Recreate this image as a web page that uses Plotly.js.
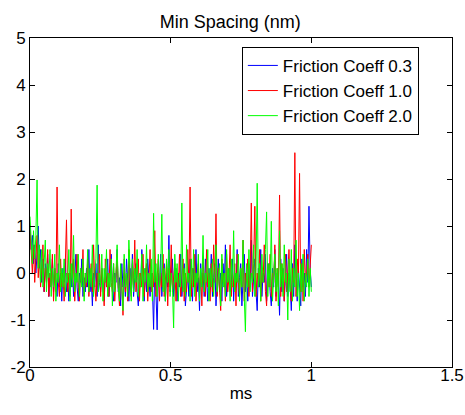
<!DOCTYPE html>
<html>
<head>
<meta charset="utf-8">
<script src="https://cdn.plot.ly/plotly-3.0.1.min.js"></script>
<style>html,body{margin:0;padding:0;background:#fff;}#chart{width:465px;height:415px;}</style>
</head>
<body>
<div id="chart"></div>
<script>
// Time span of the samples (ms) and series names
const tStart = 0;
const tEnd = 1;
const seriesNames = ["Friction Coeff 0.3", "Friction Coeff 1.0", "Friction Coeff 2.0"];
const seriesColors = ["#0000ff", "#ff0000", "#00ff00"];

// Min spacing (nm), Friction Coeff 0.3
const spacing03 = [
 1.0, 0.5, 0.8, 0.2, 0.6, 0.0, 0.4, 1.0, 0.1, 0.5,
 -0.2, 0.3, -0.4, 0.2, -0.1, 0.4, -0.5, 0.0, -0.3, 0.3,
 -0.4, 0.1, -0.2, -0.5, 0.2, -0.3, 0.0, -0.6, 0.1, -0.2,
 0.3, -0.4, -0.1, -0.6, 0.0, -0.3, 0.2, -0.5, -0.1, 0.4,
 -0.3, -0.6, 0.0, -0.2, 0.3, -0.5, -0.1, -0.4, 0.1, -0.3,
 0.5, -0.4, -0.1, -0.7, 0.0, -0.3, 0.2, -0.5, 0.6, -0.2,
 -0.4, 0.1, -0.3, -0.6, 0.0, -0.2, 0.3, -0.5, -0.1, 0.4,
 -0.3, -0.6, 0.0, -0.2, 0.5, -0.4, -0.1, -0.7, 0.2, -0.3,
 0.0, -0.5, 0.3, -0.2, -0.6, 0.1, -0.3, 0.4, -0.5, -0.1,
 0.2, -0.4, -0.7, 0.0, -0.3, 0.5, -0.2, -0.6, 0.1, -0.4,
 0.3, -0.2, -0.5, 0.0, -0.3, -1.2, 0.2, -0.4, -1.21, 0.0,
 -0.3, 0.4, -0.5, -0.1, 0.2, -0.6, 0.0, -0.3, 0.8, -0.4,
 -0.1, 0.3, -0.5, -0.2, 0.1, -0.6, 0.0, -0.3, 0.4, -0.5,
 -0.1, 0.2, -0.7, -0.3, 0.0, -0.5, 0.3, -0.2, -0.6, 0.1,
 -0.3, 0.5, -0.4, -0.1, -0.8, 0.2, -0.3, 0.0, -0.5, 0.3,
 -0.2, -0.6, 0.1, -0.3, 0.4, -0.5, -0.1, 0.2, -0.7, -0.2,
 0.3, -0.4, 0.0, -0.6, 0.2, -0.3, 0.6, -0.5, -0.1, 0.1,
 -0.4, -0.2, 0.3, -0.6, 0.0, -0.3, 0.5, -0.5, -0.1, 0.2,
 -0.7, -0.2, 0.4, -0.4, 0.0, -0.6, 0.2, -0.3, 0.7, -0.5,
 -0.1, 0.3, -0.4, -0.8, 0.1, -0.3, 0.5, -0.5, 0.0, -0.2,
 0.4, -0.6, -0.1, 0.2, -0.4, -0.7, 0.1, -0.3, 0.5, -0.5,
 0.0, -0.2, -0.9, 0.3, -0.4, 0.1, -0.6, -0.2, 0.4, -0.5,
 0.0, -0.3, -0.8, 0.2, -0.5, 0.6, -0.2, -0.6, 0.1, -0.4,
 -0.7, 0.3, -0.3, 0.0, -0.5, 0.5, -0.2, 1.42, 0.1, -0.3
];
// Min spacing (nm), Friction Coeff 1.0
const spacing10 = [
 0.9, 0.4, 0.0, 0.6, -0.2, 0.3, 0.8, -0.1, 0.4, -0.3,
 0.2, 0.6, -0.4, 0.1, -0.2, 0.5, -0.5, 0.0, -0.3, 0.4,
 -0.6, 0.1, -0.4, 1.83, -0.2, -0.5, 0.3, -0.3, 0.0, -0.6,
 0.2, 1.13, -0.4, 0.0, -0.5, 1.36, -0.2, 0.3, -0.6, -0.1,
 0.4, -0.3, -0.6, 0.1, -0.2, 0.5, -0.5, 0.0, -0.3, 0.3,
 -0.5, -0.1, 0.2, -0.4, 0.6, -0.2, -0.6, 0.0, -0.3, 0.4,
 -0.5, 0.1, -0.2, -0.7, 0.3, -0.3, 0.0, -0.5, 0.5, -0.2,
 -0.4, 0.2, -0.6, -0.1, 0.4, -0.3, -0.7, 0.1, -0.2, -0.9,
 0.3, -0.4, 0.0, -0.6, 0.5, -0.2, -0.5, 0.2, -0.3, 0.7,
 -0.4, -0.1, 0.3, -0.6, 0.0, -0.3, 0.4, -0.5, -0.1, 0.2,
 -0.6, -0.2, 0.5, -0.4, 0.0, -0.3, 0.9, -0.5, -0.1, 0.3,
 -0.6, 0.0, -0.3, 0.4, -0.5, -0.2, 0.2, -0.7, 0.1, -0.3,
 0.6, -0.4, -0.1, 0.2, -0.6, 0.0, -0.3, 0.4, -0.5, -0.2,
 0.3, -0.6, 0.0, -0.4, 0.5, -0.2, 1.83, -0.5, 0.1, -0.3,
 0.4, -0.6, -0.1, 0.2, -0.4, 0.0, -0.7, 0.3, -0.2, -0.5,
 0.5, -0.3, 0.0, -0.6, 0.2, -0.4, 0.6, -0.2, 1.26, -0.5,
 0.1, -0.3, -0.8, 0.3, -0.2, 0.0, -0.6, 0.4, -0.4, -0.1,
 0.6, -0.5, 0.0, -0.3, 0.2, -0.7, 0.4, -0.2, -0.5, 0.1,
 -0.3, 0.7, -0.6, 0.0, -0.2, 0.3, -0.5, -0.1, 1.49, -0.4,
 0.2, 1.42, -0.5, 0.0, -0.3, 0.5, -0.6, 0.1, -0.2, 0.6,
 -0.4, -0.7, 0.2, -0.3, 0.4, -0.5, 0.0, -0.2, 0.6, -0.6,
 0.1, -0.3, 1.66, -0.5, 0.2, -0.2, -0.6, 0.4, -0.4, 0.0,
 0.5, -0.3, -0.6, 0.1, -0.2, 2.56, -0.5, 0.3, -0.1, 2.12,
 -0.4, 0.2, -0.6, 0.5, -0.2, 0.0, 0.4, -0.3, 0.3, 0.6
];
// Min spacing (nm), Friction Coeff 2.0
const spacing20 = [
 1.2, 0.7, 0.2, 0.9, 0.3, 0.8, 1.98, 0.1, 0.6, -0.2,
 0.5, -0.3, 0.3, 0.7, -0.4, 0.2, -0.1, 0.5, -0.5, 0.1,
 -0.3, 0.4, -0.6, 0.0, -0.2, 0.6, -0.4, 0.1, -0.3, 0.3,
 -0.5, 0.0, -0.2, 0.5, -0.6, 0.2, -0.3, 0.8, -0.4, 0.0,
 -0.2, 0.4, -0.5, 0.1, -0.3, 0.3, -0.6, 0.0, -0.2, 0.5,
 -0.4, 0.1, -0.3, 0.6, -0.5, -0.1, 0.3, 1.87, -0.4, 0.0,
 -0.3, 0.4, -0.6, 0.1, -0.2, 0.5, -0.5, 0.0, -0.3, 0.3,
 -0.7, 0.2, -0.4, 0.0, 0.6, -0.3, -0.6, 0.2, -0.2, -0.8,
 0.4, -0.3, 0.0, -0.5, 0.7, -0.2, -0.6, 0.3, -0.4, 0.1,
 -0.2, 0.5, -0.5, 0.0, -0.3, 0.4, -0.6, 0.1, -0.2, 0.6,
 -0.4, 0.0, -0.3, 0.3, -0.6, 1.27, -0.2, 0.2, -0.5, 0.4,
 -0.3, 0.0, 1.25, -0.4, 0.1, -0.6, 0.3, -0.2, 0.5, -0.5,
 0.0, -0.3, -1.17, 0.4, -0.2, 0.2, -0.6, 0.0, -0.3, 1.49,
 -0.4, 0.1, -0.5, 0.6, -0.2, 0.0, -0.6, 0.3, -0.3, 0.5,
 -0.5, 0.0, -0.2, 0.4, -0.6, 0.1, -0.3, 0.8, -0.4, 0.0,
 -0.2, 0.5, -0.6, 0.1, -0.3, 0.3, -0.5, 0.0, 0.6, -0.4,
 -0.1, 0.2, -0.7, 0.4, -0.3, 0.0, -0.5, 0.5, -0.2, 0.1,
 -0.6, 0.3, -0.3, 0.9, -0.4, 0.0, -0.2, 0.4, -0.6, 0.1,
 -0.3, 0.7, -0.5, -1.25, 0.2, -0.3, 0.5, -0.4, 0.0, -0.2,
 0.6, -0.5, 0.1, 1.91, -0.3, 0.2, -0.6, 0.4, -0.2, 0.0,
 0.5, 1.3, -0.5, 0.2, -0.3, 1.1, -0.6, 0.0, 0.4, -0.4,
 0.1, -0.7, 0.9, -0.3, 0.2, -0.5, 0.6, -0.2, 0.0, -1.0,
 0.3, -0.4, 0.5, -0.6, 0.1, -0.3, 0.7, -0.5, 0.0, -0.8,
 0.2, -0.4, 0.4, -0.6, 0.0, -0.3, 0.3, -0.5, 0.1, -0.4
];

// Axis ticks
const xTicks = [0, 0.5, 1, 1.5];
const xTickLabels = ["0", "0.5", "1", "1.5"];
const yTicks = [-2, -1, 0, 1, 2, 3, 4, 5];
const yTickLabels = ["-2", "-1", "0", "1", "2", "3", "4", "5"];

function timeAxis(n) {
  const t = [];
  for (let i = 0; i < n; i++) t.push(tStart + (tEnd - tStart) * i / (n - 1));
  return t;
}

const allSeries = [spacing03, spacing10, spacing20];
const traces = allSeries.map((ys, k) => ({
  x: timeAxis(ys.length),
  y: ys,
  type: "scatter",
  mode: "lines",
  name: seriesNames[k],
  line: {color: seriesColors[k], width: 1}
}));

const font = {family: "Liberation Sans, Arial, sans-serif", color: "#000"};
const axisCommon = {
  showgrid: false,
  zeroline: false,
  showline: true,
  linecolor: "#000",
  linewidth: 1,
  mirror: "ticks",
  ticks: "inside",
  ticklen: 5,
  tickcolor: "#000",
  tickfont: Object.assign({size: 17}, font)
};

const layout = {
  width: 465,
  height: 415,
  margin: {l: 30, r: 13, t: 38, b: 48},
  paper_bgcolor: "#fff",
  plot_bgcolor: "#fff",
  title: {text: "Min Spacing (nm)", font: Object.assign({size: 18}, font), x: 0.495, xanchor: "center", y: 0.948, yanchor: "middle"},
  xaxis: Object.assign({}, axisCommon, {
    range: [0, 1.5], tickvals: xTicks, ticktext: xTickLabels, ticklabelstandoff: -7,
    title: {text: "ms", font: Object.assign({size: 17}, font), standoff: 2}
  }),
  yaxis: Object.assign({}, axisCommon, {
    range: [-2, 5], tickvals: yTicks, ticktext: yTickLabels, ticklabelstandoff: 0
  }),
  showlegend: true,
  legend: {
    x: 0.502, y: 0.973, xanchor: "left", yanchor: "top",
    bgcolor: "#fff", bordercolor: "#000", borderwidth: 1,
    font: Object.assign({size: 17}, font),
    tracegroupgap: 0
  }
};

Plotly.newPlot("chart", traces, layout, {staticPlot: true, displayModeBar: false});
</script>
</body>
</html>
